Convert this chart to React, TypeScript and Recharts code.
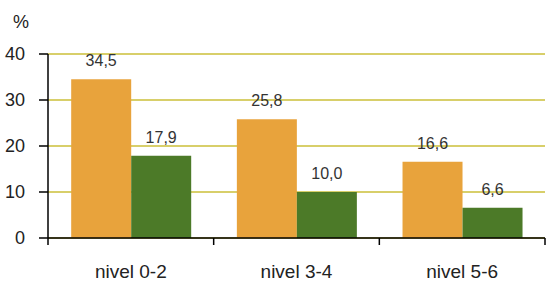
import React from 'react'
import { Bar, BarChart, CartesianGrid, LabelList, XAxis, YAxis } from 'recharts'

const categories = ['nivel 0-2', 'nivel 3-4', 'nivel 5-6']
const serieA = [34.5, 25.8, 16.6]
const serieB = [17.9, 10.0, 6.6]
const yTicks = [0, 10, 20, 30, 40]

const data = categories.map((name, i) => ({ name, a: serieA[i], b: serieB[i] }))

const font = '"Liberation Sans", Arial, sans-serif'

function format(n: number) {
  return n.toFixed(1).replace('.', ',')
}

function XTick(props: any) {
  const { x, y, payload, index, visibleTicksCount } = props
  const half = payload && payload.offset > 0 ? payload.offset : 83
  return (
    <g>
      <line x1={x - half} x2={x - half} y1={y} y2={y + 7} stroke="#000" strokeWidth={1.5} />
      {index === visibleTicksCount - 1 && (
        <line x1={x + half} x2={x + half} y1={y} y2={y + 7} stroke="#000" strokeWidth={1.5} />
      )}
      <text x={x} y={y + 40} textAnchor="middle" fontSize={19} fill="#222" fontFamily={font}>
        {payload.value}
      </text>
    </g>
  )
}

function App() {
  return (
    <div style={{ position: 'absolute', left: 0, top: 0, fontFamily: font }}>
      <BarChart
        width={547}
        height={286}
        data={data}
        margin={{ top: 54, right: 2, bottom: 0, left: 0 }}
        barCategoryGap="14%"
        barGap={0}
      >
        <CartesianGrid vertical={false} stroke="#d8cf6a" strokeWidth={2} />
        <XAxis
          dataKey="name"
          height={48}
          tickLine={false}
          tickSize={0}
          tickMargin={0}
          axisLine={{ stroke: '#000', strokeWidth: 1.5 }}
          tick={<XTick />}
          interval={0}
        />
        <YAxis
          width={48}
          domain={[0, 40]}
          ticks={yTicks}
          tickSize={9}
          tickMargin={14}
          axisLine={{ stroke: '#000', strokeWidth: 1.5 }}
          tickLine={{ stroke: '#000', strokeWidth: 1.5 }}
          tick={{ fontSize: 18, fill: '#222', fontFamily: font }}
          label={({ viewBox }: any) => (
            <text x={viewBox.x + 21} y={viewBox.y - 26} textAnchor="middle" fontSize={18} fill="#222" fontFamily={font}>
              %
            </text>
          )}
        />
        <Bar dataKey="a" fill="#e8a33c" isAnimationActive={false}>
          <LabelList dataKey="a" position="top" offset={13} formatter={(v: any) => format(Number(v))} style={{ fontSize: 16, fill: '#333', fontFamily: font }} />
        </Bar>
        <Bar dataKey="b" fill="#4c7a28" isAnimationActive={false}>
          <LabelList dataKey="b" position="top" offset={13} formatter={(v: any) => format(Number(v))} style={{ fontSize: 16, fill: '#333', fontFamily: font }} />
        </Bar>
      </BarChart>
    </div>
  )
}

export default App
